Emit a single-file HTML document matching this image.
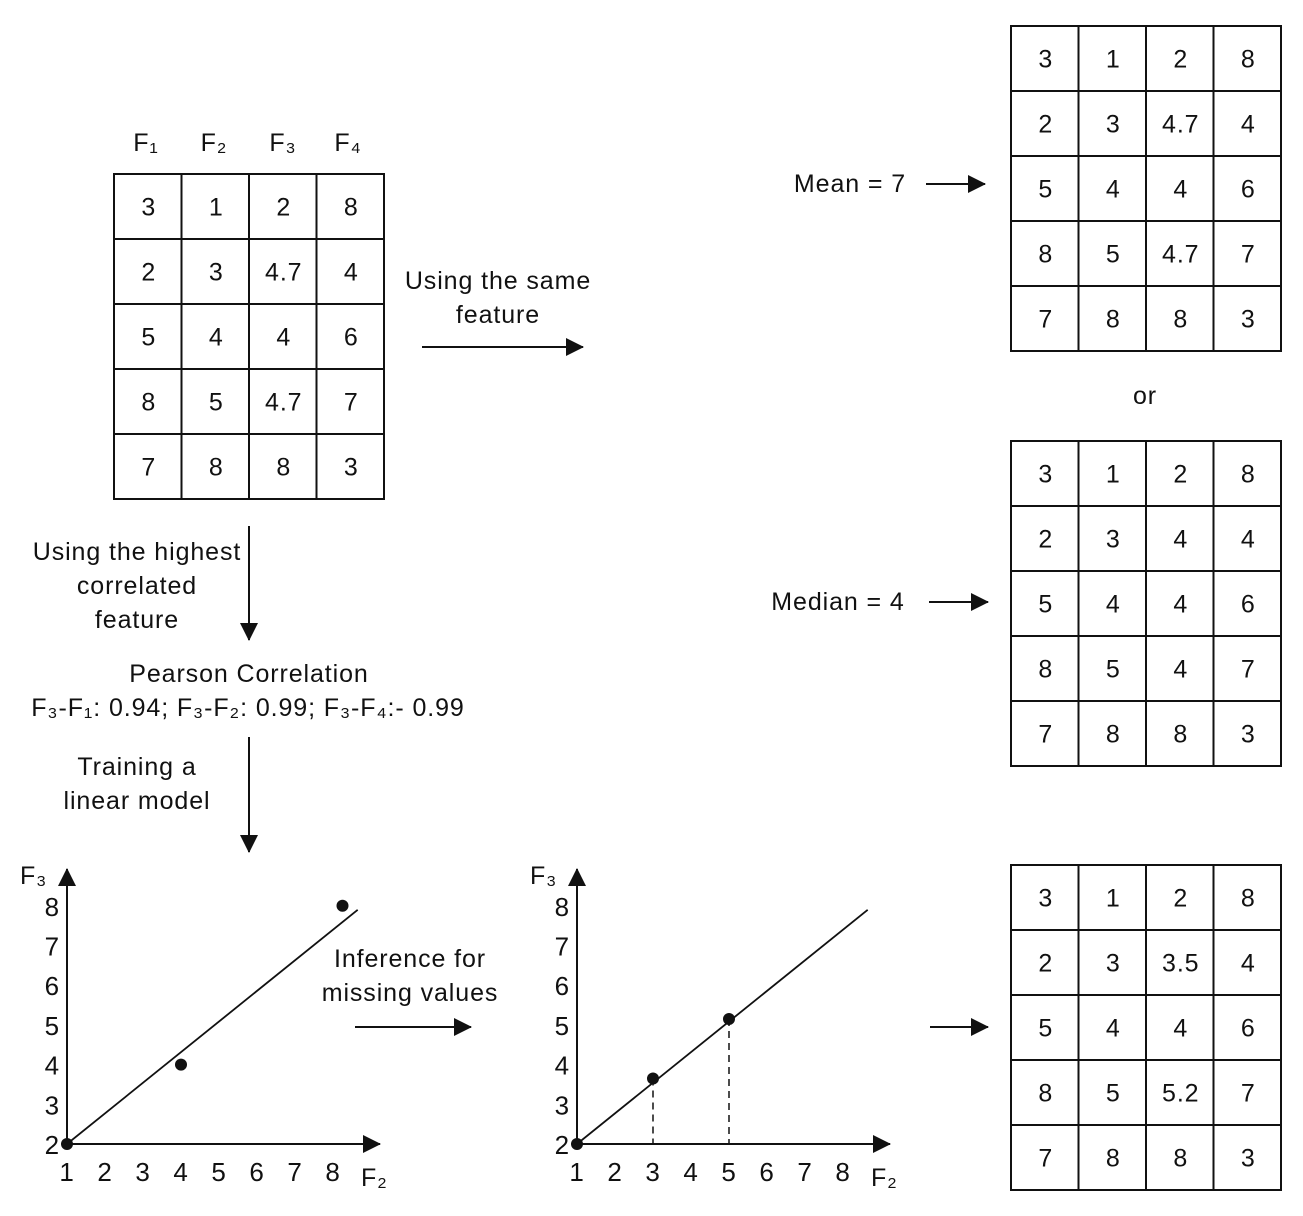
<!DOCTYPE html>
<html><head><meta charset="utf-8"><style>
body{margin:0;background:#fff}
svg text{font-family:"Liberation Sans",sans-serif;fill:#111;letter-spacing:0.9px}
</style></head><body>
<svg id="s" width="1303" height="1211" viewBox="0 0 1303 1211">
<defs><marker id="ab" markerWidth="18" markerHeight="18" refX="17" refY="9" orient="auto" markerUnits="userSpaceOnUse"><path d="M0,0 L18,9 L0,18 z" fill="#111"/></marker></defs>
<g id="g" font-size="25"></g>
</svg>
<script>
const leftTable=[["3","1","2","8"],["2","3","4.7","4"],["5","4","4","6"],["8","5","4.7","7"],["7","8","8","3"]];
const meanTable=[["3","1","2","8"],["2","3","4.7","4"],["5","4","4","6"],["8","5","4.7","7"],["7","8","8","3"]];
const medianTable=[["3","1","2","8"],["2","3","4","4"],["5","4","4","6"],["8","5","4","7"],["7","8","8","3"]];
const regTable=[["3","1","2","8"],["2","3","3.5","4"],["5","4","4","6"],["8","5","5.2","7"],["7","8","8","3"]];
const xTicks=[1,2,3,4,5,6,7,8];
const yTicks=[2,3,4,5,6,7,8];
const trainX=[1,4,8.25];
const trainY=[2,4,8];
const predX=[1,3,5];
const predY=[2,3.65,5.15];
const NS="http://www.w3.org/2000/svg";
const g=document.getElementById('g');
function el(t,a,txt){const e=document.createElementNS(NS,t);for(const k in a)e.setAttribute(k,a[k]);if(txt!==undefined)e.textContent=txt;g.appendChild(e);return e;}
function table(data,x,y,name){
 const cw=67.5,rh=65;
 const r=el('rect',{x:x,y:y,width:cw*4,height:rh*5,fill:'none',stroke:'#111','stroke-width':2});
 
 
 for(let i=1;i<4;i++)el('line',{x1:x+i*cw,y1:y,x2:x+i*cw,y2:y+rh*5,stroke:'#111','stroke-width':2});
 for(let j=1;j<5;j++)el('line',{x1:x,y1:y+j*rh,x2:x+cw*4,y2:y+j*rh,stroke:'#111','stroke-width':2});
 data.forEach((row,j)=>row.forEach((v,i)=>{
  const t=el('text',{x:x+cw*i+cw/2+1,y:y+rh*j+rh/2+9,'text-anchor':'middle'},v);
  
  
 }));
}
table(leftTable,114,174,'source-table');
table(meanTable,1011,26,'mean-imputed-table');
table(medianTable,1011,441,'median-imputed-table');
table(regTable,1011,865,'regression-imputed-table');
function txt(s,x,y,name,anchor,fs){const a={x:x,y:y,'text-anchor':anchor||'start'};if(fs)a['font-size']=fs;const t=el('text',a,s);return t;}
[["F₁",146],["F₂",214],["F₃",283],["F₄",348]].forEach(([s,x])=>txt(s,x,151,'column-header','middle'));
function arrow(x1,y1,x2,y2,name){const l=el('line',{x1,y1,x2,y2,stroke:'#111','stroke-width':2,'marker-end':'url(#ab)'});}
txt("Using the same",498,289,'label-same-feature','middle');
txt("feature",498,323,'label-same-feature','middle');
arrow(422,347,583,347,'arrow-same-feature');
txt("Mean = 7",850,192,'mean-label','middle');
arrow(926,184,985,184,'arrow-mean');
txt("or",1145,404,'or-label','middle');
txt("Median = 4",838,610,'median-label','middle');
arrow(929,602,988,602,'arrow-median');
arrow(930,1027,988,1027,'arrow-regression');
txt("Using the highest",137,560,'label-highest-corr','middle');
txt("correlated",137,594,'label-highest-corr','middle');
txt("feature",137,628,'label-highest-corr','middle');
arrow(249,526,249,640,'arrow-down-1');
txt("Pearson Correlation",249,682,'pearson-title','middle');
txt("F₃-F₁: 0.94; F₃-F₂: 0.99; F₃-F₄:- 0.99",248,716,'pearson-values','middle');
txt("Training a",137,775,'label-training','middle');
txt("linear model",137,809,'label-training','middle');
arrow(249,737,249,852,'arrow-down-2');
txt("Inference for",410,967,'label-inference','middle');
txt("missing values",410,1001,'label-inference','middle');
arrow(355,1027,471,1027,'arrow-inference');
function chart(ox,xs,ys,name,dashed,lineEnd){
 const X=v=>ox+(v-1)*38, Y=v=>1144-(v-2)*39.7;
 arrow(ox,1144,ox+313,1144,name+'-x-axis');
 arrow(ox,1144,ox,869,name+'-y-axis');
 xTicks.forEach(v=>txt(String(v),X(v),1181,name+'-x-tick','middle',26));
 yTicks.forEach(v=>txt(String(v),ox-7,Y(v)+10,name+'-y-tick','end',26));
 txt("F₃",ox-47,884,name+'-y-title');
 txt("F₂",ox+294,1186,name+'-x-title');
 const l=el('line',{x1:X(1),y1:Y(2),x2:X(lineEnd[0]),y2:Y(lineEnd[1]),stroke:'#111','stroke-width':1.8});
 
 
 xs.forEach((v,i)=>{
  if(dashed&&i>0){const d=el('line',{x1:X(v),y1:Y(ys[i]),x2:X(v),y2:1144,stroke:'#111','stroke-width':1.5,'stroke-dasharray':'7,5'});}
  const c=el('circle',{cx:X(v),cy:Y(ys[i]),r:6,fill:'#111'});
  
  
 });
}
chart(67,trainX,trainY,'training-chart',false,[8.65,7.9]);
chart(577,predX,predY,'inference-chart',true,[8.65,7.9]);
</script>
</body></html>
